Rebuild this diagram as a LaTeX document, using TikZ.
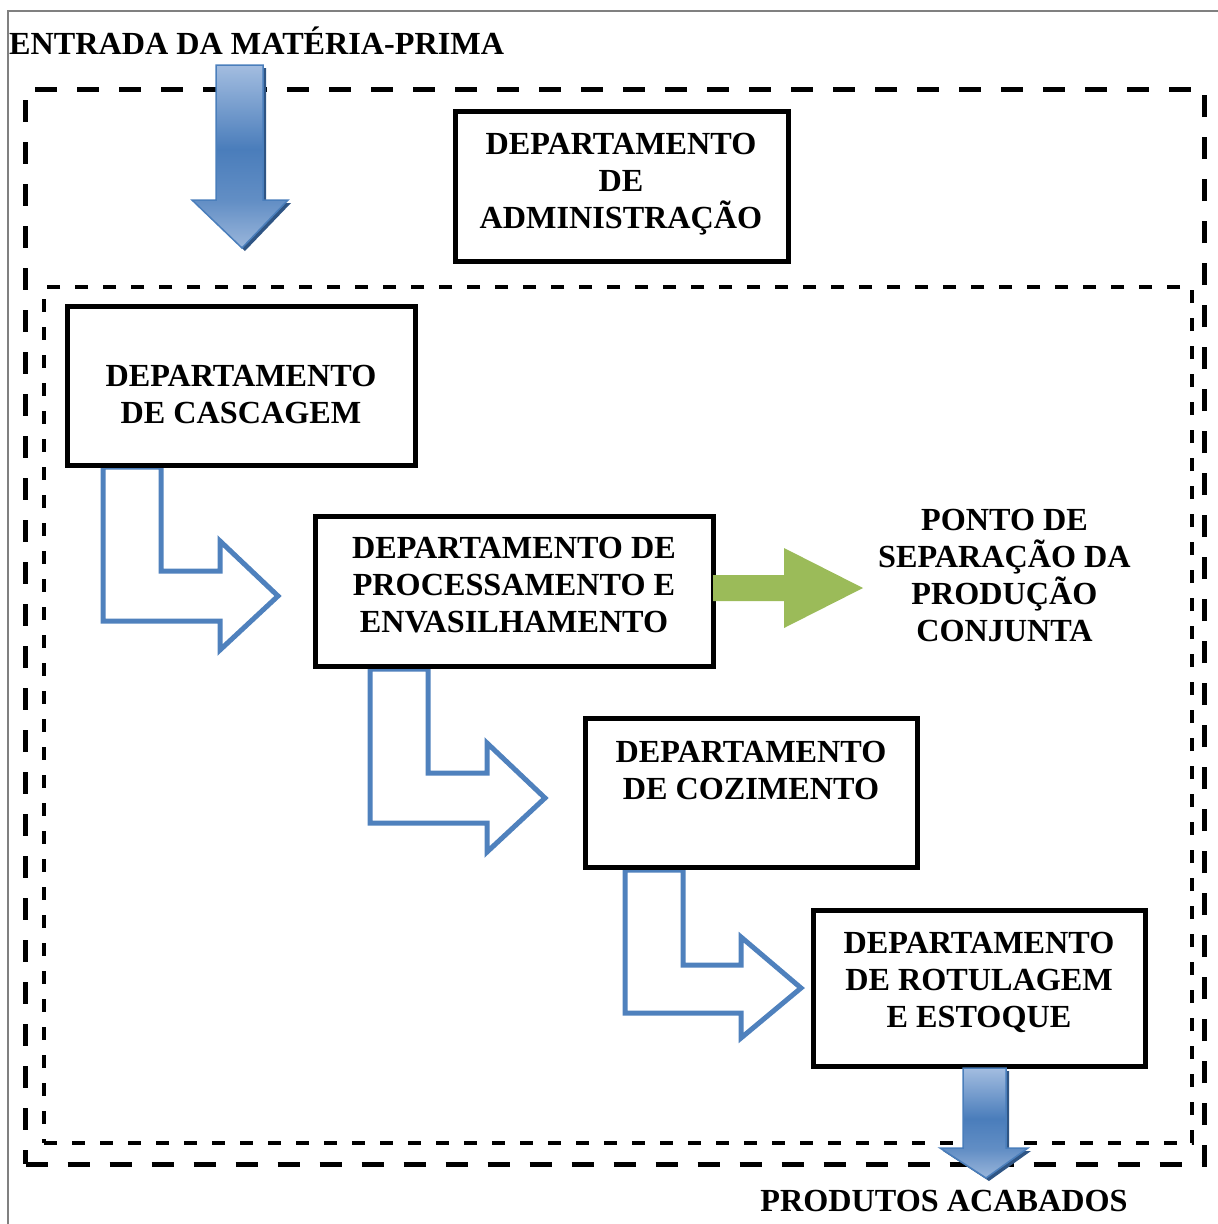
\documentclass[tikz,border=0pt]{standalone}
\usepackage{fontspec}
\setmainfont{Liberation Serif}
\definecolor{flowblue}{HTML}{4F81BD}
\definecolor{leafgreen}{HTML}{9BBB59}
\definecolor{gradtop}{HTML}{A3BDE0}
\definecolor{gradmid}{HTML}{4A7DBB}
\definecolor{gradbot}{HTML}{9AB6DB}
\definecolor{arrowedge}{HTML}{4A7EBB}
\definecolor{arrowshade}{HTML}{2F5584}
\definecolor{framegrey}{HTML}{808080}
% light - dark - light vertical gradient for the block arrows
\pgfdeclareverticalshading{flowgrad}{100bp}{color(0bp)=(gradbot); color(25bp)=(gradbot);
  color(38bp)=(gradmid!70!gradbot); color(52bp)=(gradmid); color(75bp)=(gradtop); color(100bp)=(gradtop)}
\begin{document}
\begin{tikzpicture}[x=1pt,y=-1pt,
  lbl/.style={font=\fontsize{32.2}{37}\selectfont\bfseries, align=center, inner sep=0pt},
  deptbox/.style={draw, line width=5pt, inner sep=0pt, outer sep=0pt},
  outerzone/.style={draw, line width=5pt, dash pattern=on 22pt off 20pt, inner sep=0pt},
  innerzone/.style={draw, line width=3.5pt, dash pattern=on 13pt off 15pt, inner sep=0pt},
  lflow/.style={draw=flowblue, line width=5pt, fill=white, line join=miter},
  sepflow/.style={fill=leafgreen},
  flowshadow/.style={fill=arrowshade},
  flowbody/.style={draw=arrowedge, line width=1.5pt, shading=flowgrad},
]
\useasboundingbox (0,0) rectangle (1218,1224);

% page frame
\draw[framegrey, line width=1.5pt] (8,1224) -- (8,11) -- (1218,11);

% plant and production zones
\node[outerzone, minimum width=1179pt, minimum height=1075pt] (plant) at (615,626.5) {};
\node[innerzone, minimum width=1148pt, minimum height=856pt] (production) at (618,715) {};

% L-shaped flow arrows between departments
\draw[lflow] (103,467) -- (161,467) -- (161,571) -- (220,571) -- (220,541) -- (278,596)
  -- (220,650) -- (220,621) -- (103,621) -- cycle;
\draw[lflow] (370,669) -- (428,669) -- (428,773) -- (487,773) -- (487,743) -- (545,798)
  -- (487,852) -- (487,823) -- (370,823) -- cycle;
\draw[lflow] (625,870) -- (683,870) -- (683,965) -- (741,965) -- (741,937) -- (801,988)
  -- (741,1038) -- (741,1013) -- (625,1013) -- cycle;

% departments
\node[deptbox, minimum width=333pt, minimum height=150pt] (admin) at (621.5,186) {};
\node[deptbox, minimum width=348pt, minimum height=159pt] (cascagem) at (241,385.5) {};
\node[deptbox, minimum width=398pt, minimum height=150pt] (processo) at (514,591) {};
\node[deptbox, minimum width=332pt, minimum height=149pt] (cozimento) at (751,792.5) {};
\node[deptbox, minimum width=332pt, minimum height=156pt] (rotulagem) at (979,988) {};

% split-off arrow
\fill[sepflow] (713,575) -- (784,575) -- (784,548) -- (863,588) -- (784,628) -- (784,601)
  -- (713,601) -- cycle;

% raw material in
\fill[flowshadow] (219,68) -- (266,68) -- (266,203) -- (291,203) -- (245,251) -- (195,203)
  -- (219,203) -- cycle;
\draw[flowbody] (216,65) -- (263,65) -- (263,200) -- (288,200) -- (242,248) -- (192,200)
  -- (216,200) -- cycle;

% finished goods out
\fill[flowshadow] (966,1071) -- (1009,1071) -- (1009,1151) -- (1031,1151) -- (989,1181)
  -- (943,1151) -- (966,1151) -- cycle;
\draw[flowbody] (963,1068) -- (1006,1068) -- (1006,1148) -- (1028,1148) -- (986,1178)
  -- (940,1148) -- (963,1148) -- cycle;

% labels
\node[lbl, anchor=west] (entrada) at (9,41) {ENTRADA DA MATÉRIA-PRIMA};
\node[lbl] (t-admin) at (621,184) {DEPARTAMENTO\\DE\\ADMINISTRAÇÃO};
\node[lbl] (t-cascagem) at (241,394) {DEPARTAMENTO\\DE CASCAGEM};
\node[lbl] (t-processo) at (514,585) {DEPARTAMENTO DE\\PROCESSAMENTO E\\ENVASILHAMENTO};
\node[lbl] (t-cozimento) at (751,770) {DEPARTAMENTO\\DE COZIMENTO};
\node[lbl] (t-rotulagem) at (979,982) {DEPARTAMENTO\\DE ROTULAGEM\\E ESTOQUE};
\node[lbl] (t-ponto) at (1004.5,575) {PONTO DE\\SEPARAÇÃO DA\\PRODUÇÃO\\CONJUNTA};
\node[lbl] (t-produtos) at (944,1201) {PRODUTOS ACABADOS};
\end{tikzpicture}
\end{document}
